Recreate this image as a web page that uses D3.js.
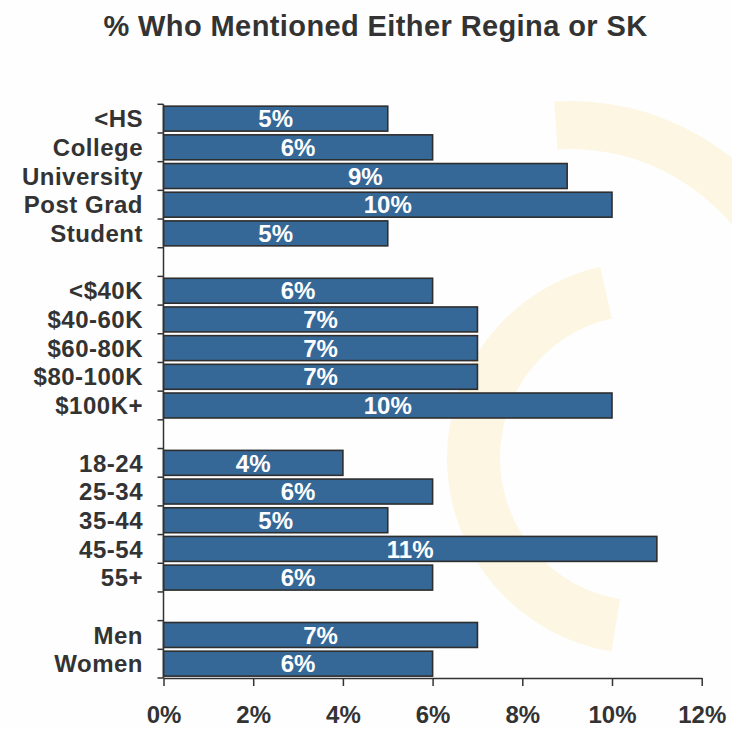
<!DOCTYPE html>
<html>
<head>
<meta charset="utf-8">
<script src="https://cdn.jsdelivr.net/npm/d3@7"></script>
<style>
  html, body { margin: 0; padding: 0; background: #ffffff; }
  svg { display: block; }
  text { font-family: "Liberation Sans", Arial, Helvetica, sans-serif; font-weight: bold; }
</style>
</head>
<body>
<svg id="chart" width="732" height="729"></svg>
<script>
const title = "% Who Mentioned Either Regina or SK";
const categories = ["<HS","College","University","Post Grad","Student",
                    "<$40K","$40-60K","$60-80K","$80-100K","$100K+",
                    "18-24","25-34","35-44","45-54","55+",
                    "Men","Women"];
const values = [5,6,9,10,5, 6,7,7,7,10, 4,6,5,11,6, 7,6];
const groupSizes = [5,5,5,2];
const xTicks = [0,2,4,6,8,10,12];

// build slots with gaps between groups
const slots = [];
let k = 0;
groupSizes.forEach((g, gi) => {
  for (let i = 0; i < g; i++) slots.push(categories[k++]);
  if (gi < groupSizes.length - 1) slots.push("__gap" + gi);
});

const svg = d3.select("#chart");
const W = 732, H = 729;
svg.append("rect").attr("width", W).attr("height", H).attr("fill", "#fefefe");

// faint watermark arcs
const wm = svg.append("g").attr("fill", "#fcf6e3");
wm.append("path")
  .attr("transform", "translate(643,458)")
  .attr("d", d3.arc()({innerRadius: 143, outerRadius: 196, startAngle: -2.98, endAngle: -0.22}));
wm.append("path")
  .attr("transform", "translate(570,360)")
  .attr("d", d3.arc()({innerRadius: 211, outerRadius: 259, startAngle: -0.06, endAngle: 1.1}));

const x = d3.scaleLinear().domain([0, 12]).range([163.5, 701.7]);
const y = d3.scaleBand().domain(slots).range([104.3, 678]).paddingInner(0.13).paddingOuter(0.065);

const ink = "#333333";

// title
svg.append("text")
  .attr("x", 375.5).attr("y", 36)
  .attr("text-anchor", "middle")
  .attr("font-size", 29)
  .attr("letter-spacing", 0.4)
  .attr("fill", ink)
  .text(title);

// bars
const data = categories.map((c, i) => ({c, v: values[i]}));
svg.append("g").selectAll("rect").data(data).join("rect")
  .attr("x", x(0))
  .attr("y", d => y(d.c))
  .attr("width", d => x(d.v) - x(0))
  .attr("height", y.bandwidth())
  .attr("fill", "#366897")
  .attr("stroke", "#2e2e2e")
  .attr("stroke-width", 1.6);

// value labels
svg.append("g").selectAll("text").data(data).join("text")
  .attr("x", d => (x(0) + x(d.v)) / 2)
  .attr("y", d => y(d.c) + y.bandwidth() / 2)
  .attr("dy", "0.36em")
  .attr("text-anchor", "middle")
  .attr("font-size", 24)
  .attr("fill", "#ffffff")
  .text(d => d.v + "%");

// category labels
svg.append("g").selectAll("text").data(categories).join("text")
  .attr("x", 143)
  .attr("y", d => y(d) + y.bandwidth() / 2)
  .attr("dy", "0.36em")
  .attr("text-anchor", "end")
  .attr("font-size", 24)
  .attr("letter-spacing", 0.5)
  .attr("fill", ink)
  .text(d => d);

// y axis: line with ticks at slot boundaries
const step = y.step();
const off = step * y.paddingInner() / 2;
const bounds = slots.map(s => y(s) - off);
bounds.push(y(slots[slots.length - 1]) - off + step);
const yAxis = svg.append("g").attr("stroke", ink).attr("stroke-width", 1.5);
yAxis.append("line")
  .attr("x1", x(0)).attr("x2", x(0))
  .attr("y1", bounds[0]).attr("y2", bounds[bounds.length - 1]);
yAxis.selectAll("line.tk").data(bounds).join("line").attr("class", "tk")
  .attr("x1", x(0) - 6).attr("x2", x(0))
  .attr("y1", d => d).attr("y2", d => d);

// x axis
const xAxisY = bounds[bounds.length - 1];
const gx = svg.append("g").attr("transform", `translate(0,${xAxisY})`)
  .call(d3.axisBottom(x).tickValues(xTicks).tickFormat(d => d + "%").tickSize(8).tickSizeOuter(0).tickPadding(20));
gx.select(".domain").attr("stroke", ink).attr("stroke-width", 1.5);
gx.selectAll(".tick line").attr("stroke", ink).attr("stroke-width", 1.5);
gx.selectAll(".tick text")
  .attr("font-size", 24)
  .attr("font-family", "'Liberation Sans', Arial, sans-serif")
  .attr("font-weight", "bold")
  .attr("fill", ink);
</script>
</body>
</html>
